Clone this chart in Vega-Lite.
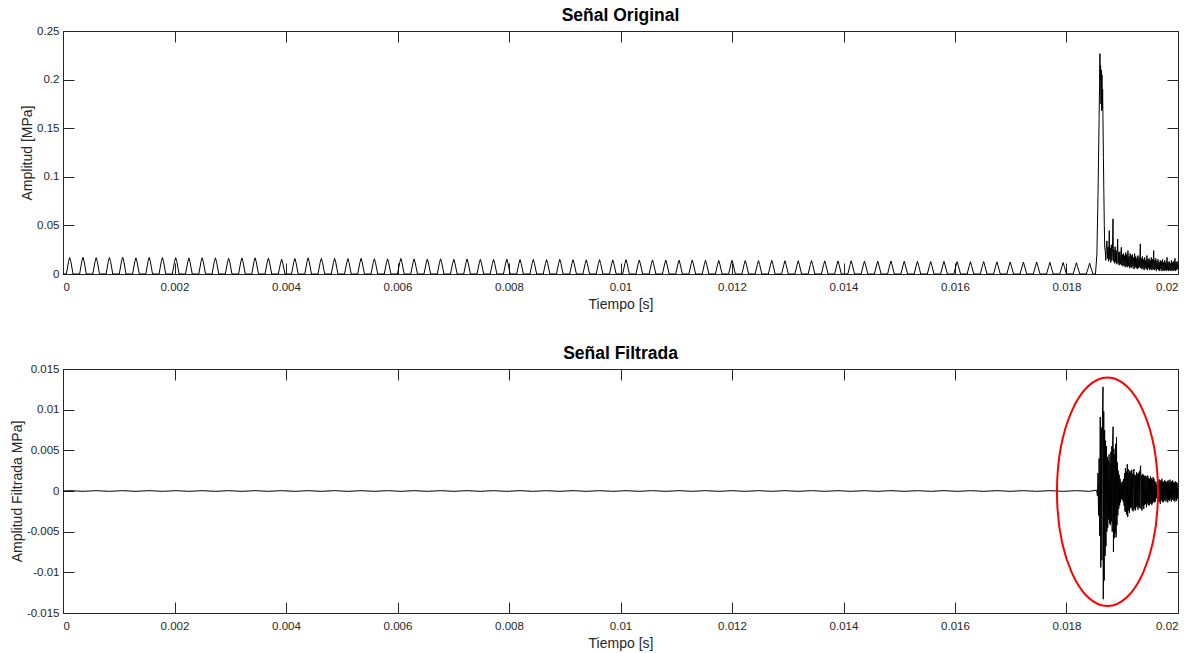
{
"$schema":"https://vega.github.io/schema/vega-lite/v6.json",
"background":"white",
"padding":{"left":9,"top":6,"right":3,"bottom":0},
"spacing":32,
"config":{
 "font":"Liberation Sans",
 "view":{"stroke":"#262626","strokeWidth":1},
 "axis":{"grid":false,"domain":false,"tickSize":-11,"tickColor":"#262626","tickWidth":1,"labelColor":"#262626","labelFontSize":11.5,"labelFont":"Liberation Sans","titleFont":"Liberation Sans","titleFontSize":14,"titleFontWeight":"normal","titleColor":"#262626"},
 "axisBottom":{"labelPadding":18,"titlePadding":4.5},
 "axisLeft":{"labelPadding":15,"titlePadding":2},
 "title":{"fontSize":17.5,"fontWeight":"bold","color":"#000000","font":"Liberation Sans","offset":1}
},
"datasets":{
"o":[
{"t":0,"a":0},{"t":0.00006,"a":0},{"t":0.0001,"a":0.013},{"t":0.00012,"a":0.017},{"t":0.00014,"a":0.013},{"t":0.00018,"a":0},
{"t":0.000298,"a":0},{"t":0.000338,"a":0.0132},{"t":0.000358,"a":0.0172},{"t":0.000378,"a":0.0132},{"t":0.000418,"a":0},
{"t":0.000535,"a":0},{"t":0.000575,"a":0.0128},{"t":0.000595,"a":0.0168},{"t":0.000615,"a":0.0128},{"t":0.000655,"a":0},
{"t":0.000773,"a":0},{"t":0.000813,"a":0.013},{"t":0.000833,"a":0.017},{"t":0.000853,"a":0.013},{"t":0.000893,"a":0},
{"t":0.00101,"a":0},{"t":0.00105,"a":0.0133},{"t":0.00107,"a":0.0173},{"t":0.00109,"a":0.0133},{"t":0.00113,"a":0},
{"t":0.001248,"a":0},{"t":0.001288,"a":0.0126},{"t":0.001308,"a":0.0166},{"t":0.001328,"a":0.0126},{"t":0.001368,"a":0},
{"t":0.001486,"a":0},{"t":0.001526,"a":0.0131},{"t":0.001546,"a":0.0171},{"t":0.001566,"a":0.0131},{"t":0.001606,"a":0},
{"t":0.001723,"a":0},{"t":0.001763,"a":0.0129},{"t":0.001783,"a":0.0169},{"t":0.001803,"a":0.0129},{"t":0.001843,"a":0},
{"t":0.001961,"a":0},{"t":0.002001,"a":0.0128},{"t":0.002021,"a":0.0168},{"t":0.002041,"a":0.0128},{"t":0.002081,"a":0},
{"t":0.002198,"a":0},{"t":0.002238,"a":0.0125},{"t":0.002258,"a":0.0165},{"t":0.002278,"a":0.0125},{"t":0.002318,"a":0},
{"t":0.002436,"a":0},{"t":0.002476,"a":0.0127},{"t":0.002496,"a":0.0167},{"t":0.002516,"a":0.0127},{"t":0.002556,"a":0},
{"t":0.002674,"a":0},{"t":0.002714,"a":0.0126},{"t":0.002734,"a":0.0166},{"t":0.002754,"a":0.0126},{"t":0.002794,"a":0},
{"t":0.002911,"a":0},{"t":0.002951,"a":0.0122},{"t":0.002971,"a":0.0162},{"t":0.002991,"a":0.0122},{"t":0.003031,"a":0},
{"t":0.003149,"a":0},{"t":0.003189,"a":0.0125},{"t":0.003209,"a":0.0165},{"t":0.003229,"a":0.0125},{"t":0.003269,"a":0},
{"t":0.003386,"a":0},{"t":0.003426,"a":0.0126},{"t":0.003446,"a":0.0166},{"t":0.003466,"a":0.0126},{"t":0.003506,"a":0},
{"t":0.003624,"a":0},{"t":0.003664,"a":0.0123},{"t":0.003684,"a":0.0163},{"t":0.003704,"a":0.0123},{"t":0.003744,"a":0},
{"t":0.003862,"a":0},{"t":0.003902,"a":0.0112},{"t":0.003922,"a":0.0152},{"t":0.003942,"a":0.0112},{"t":0.003982,"a":0},
{"t":0.004099,"a":0},{"t":0.004139,"a":0.012},{"t":0.004159,"a":0.016},{"t":0.004179,"a":0.012},{"t":0.004219,"a":0},
{"t":0.004337,"a":0},{"t":0.004377,"a":0.0126},{"t":0.004397,"a":0.0166},{"t":0.004417,"a":0.0126},{"t":0.004457,"a":0},
{"t":0.004574,"a":0},{"t":0.004614,"a":0.0121},{"t":0.004634,"a":0.0161},{"t":0.004654,"a":0.0121},{"t":0.004694,"a":0},
{"t":0.004812,"a":0},{"t":0.004852,"a":0.012},{"t":0.004872,"a":0.016},{"t":0.004892,"a":0.012},{"t":0.004932,"a":0},
{"t":0.00505,"a":0},{"t":0.00509,"a":0.0118},{"t":0.00511,"a":0.0158},{"t":0.00513,"a":0.0118},{"t":0.00517,"a":0},
{"t":0.005287,"a":0},{"t":0.005327,"a":0.0121},{"t":0.005347,"a":0.0161},{"t":0.005367,"a":0.0121},{"t":0.005407,"a":0},
{"t":0.005525,"a":0},{"t":0.005565,"a":0.0117},{"t":0.005585,"a":0.0157},{"t":0.005605,"a":0.0117},{"t":0.005645,"a":0},
{"t":0.005762,"a":0},{"t":0.005802,"a":0.0116},{"t":0.005822,"a":0.0156},{"t":0.005842,"a":0.0116},{"t":0.005882,"a":0},
{"t":0.006,"a":0},{"t":0.00604,"a":0.0119},{"t":0.00606,"a":0.0159},{"t":0.00608,"a":0.0119},{"t":0.00612,"a":0},
{"t":0.006238,"a":0},{"t":0.006278,"a":0.0115},{"t":0.006298,"a":0.0155},{"t":0.006318,"a":0.0115},{"t":0.006358,"a":0},
{"t":0.006475,"a":0},{"t":0.006515,"a":0.0113},{"t":0.006535,"a":0.0153},{"t":0.006555,"a":0.0113},{"t":0.006595,"a":0},
{"t":0.006713,"a":0},{"t":0.006753,"a":0.0116},{"t":0.006773,"a":0.0156},{"t":0.006793,"a":0.0116},{"t":0.006833,"a":0},
{"t":0.00695,"a":0},{"t":0.00699,"a":0.0112},{"t":0.00701,"a":0.0152},{"t":0.00703,"a":0.0112},{"t":0.00707,"a":0},
{"t":0.007188,"a":0},{"t":0.007228,"a":0.0114},{"t":0.007248,"a":0.0154},{"t":0.007268,"a":0.0114},{"t":0.007308,"a":0},
{"t":0.007426,"a":0},{"t":0.007466,"a":0.0111},{"t":0.007486,"a":0.0151},{"t":0.007506,"a":0.0111},{"t":0.007546,"a":0},
{"t":0.007663,"a":0},{"t":0.007703,"a":0.011},{"t":0.007723,"a":0.015},{"t":0.007743,"a":0.011},{"t":0.007783,"a":0},
{"t":0.007901,"a":0},{"t":0.007941,"a":0.0113},{"t":0.007961,"a":0.0153},{"t":0.007981,"a":0.0113},{"t":0.008021,"a":0},
{"t":0.008138,"a":0},{"t":0.008178,"a":0.0109},{"t":0.008198,"a":0.0149},{"t":0.008218,"a":0.0109},{"t":0.008258,"a":0},
{"t":0.008376,"a":0},{"t":0.008416,"a":0.011},{"t":0.008436,"a":0.015},{"t":0.008456,"a":0.011},{"t":0.008496,"a":0},
{"t":0.008614,"a":0},{"t":0.008654,"a":0.0108},{"t":0.008674,"a":0.0148},{"t":0.008694,"a":0.0108},{"t":0.008734,"a":0},
{"t":0.008851,"a":0},{"t":0.008891,"a":0.0111},{"t":0.008911,"a":0.0151},{"t":0.008931,"a":0.0111},{"t":0.008971,"a":0},
{"t":0.009089,"a":0},{"t":0.009129,"a":0.0107},{"t":0.009149,"a":0.0147},{"t":0.009169,"a":0.0107},{"t":0.009209,"a":0},
{"t":0.009326,"a":0},{"t":0.009366,"a":0.0106},{"t":0.009386,"a":0.0146},{"t":0.009406,"a":0.0106},{"t":0.009446,"a":0},
{"t":0.009564,"a":0},{"t":0.009604,"a":0.0108},{"t":0.009624,"a":0.0148},{"t":0.009644,"a":0.0108},{"t":0.009684,"a":0},
{"t":0.009802,"a":0},{"t":0.009842,"a":0.0105},{"t":0.009862,"a":0.0145},{"t":0.009882,"a":0.0105},{"t":0.009922,"a":0},
{"t":0.010039,"a":0},{"t":0.010079,"a":0.0107},{"t":0.010099,"a":0.0147},{"t":0.010119,"a":0.0107},{"t":0.010159,"a":0},
{"t":0.010277,"a":0},{"t":0.010317,"a":0.0104},{"t":0.010337,"a":0.0144},{"t":0.010357,"a":0.0104},{"t":0.010397,"a":0},
{"t":0.010514,"a":0},{"t":0.010554,"a":0.0105},{"t":0.010574,"a":0.0145},{"t":0.010594,"a":0.0105},{"t":0.010634,"a":0},
{"t":0.010752,"a":0},{"t":0.010792,"a":0.0103},{"t":0.010812,"a":0.0143},{"t":0.010832,"a":0.0103},{"t":0.010872,"a":0},
{"t":0.01099,"a":0},{"t":0.01103,"a":0.0102},{"t":0.01105,"a":0.0142},{"t":0.01107,"a":0.0102},{"t":0.01111,"a":0},
{"t":0.011227,"a":0},{"t":0.011267,"a":0.0104},{"t":0.011287,"a":0.0144},{"t":0.011307,"a":0.0104},{"t":0.011347,"a":0},
{"t":0.011465,"a":0},{"t":0.011505,"a":0.0101},{"t":0.011525,"a":0.0141},{"t":0.011545,"a":0.0101},{"t":0.011585,"a":0},
{"t":0.011702,"a":0},{"t":0.011742,"a":0.01},{"t":0.011762,"a":0.014},{"t":0.011782,"a":0.01},{"t":0.011822,"a":0},
{"t":0.01194,"a":0},{"t":0.01198,"a":0.0102},{"t":0.012,"a":0.0142},{"t":0.01202,"a":0.0102},{"t":0.01206,"a":0},
{"t":0.012178,"a":0},{"t":0.012218,"a":0.0099},{"t":0.012238,"a":0.0139},{"t":0.012258,"a":0.0099},{"t":0.012298,"a":0},
{"t":0.012415,"a":0},{"t":0.012455,"a":0.0098},{"t":0.012475,"a":0.0138},{"t":0.012495,"a":0.0098},{"t":0.012535,"a":0},
{"t":0.012653,"a":0},{"t":0.012693,"a":0.01},{"t":0.012713,"a":0.014},{"t":0.012733,"a":0.01},{"t":0.012773,"a":0},
{"t":0.01289,"a":0},{"t":0.01293,"a":0.0097},{"t":0.01295,"a":0.0137},{"t":0.01297,"a":0.0097},{"t":0.01301,"a":0},
{"t":0.013128,"a":0},{"t":0.013168,"a":0.0096},{"t":0.013188,"a":0.0136},{"t":0.013208,"a":0.0096},{"t":0.013248,"a":0},
{"t":0.013366,"a":0},{"t":0.013406,"a":0.0098},{"t":0.013426,"a":0.0138},{"t":0.013446,"a":0.0098},{"t":0.013486,"a":0},
{"t":0.013603,"a":0},{"t":0.013643,"a":0.0095},{"t":0.013663,"a":0.0135},{"t":0.013683,"a":0.0095},{"t":0.013723,"a":0},
{"t":0.013841,"a":0},{"t":0.013881,"a":0.0094},{"t":0.013901,"a":0.0134},{"t":0.013921,"a":0.0094},{"t":0.013961,"a":0},
{"t":0.014078,"a":0},{"t":0.014118,"a":0.0096},{"t":0.014138,"a":0.0136},{"t":0.014158,"a":0.0096},{"t":0.014198,"a":0},
{"t":0.014316,"a":0},{"t":0.014356,"a":0.0093},{"t":0.014376,"a":0.0133},{"t":0.014396,"a":0.0093},{"t":0.014436,"a":0},
{"t":0.014554,"a":0},{"t":0.014594,"a":0.0092},{"t":0.014614,"a":0.0132},{"t":0.014634,"a":0.0092},{"t":0.014674,"a":0},
{"t":0.014791,"a":0},{"t":0.014831,"a":0.0094},{"t":0.014851,"a":0.0134},{"t":0.014871,"a":0.0094},{"t":0.014911,"a":0},
{"t":0.015029,"a":0},{"t":0.015069,"a":0.0091},{"t":0.015089,"a":0.0131},{"t":0.015109,"a":0.0091},{"t":0.015149,"a":0},
{"t":0.015266,"a":0},{"t":0.015306,"a":0.009},{"t":0.015326,"a":0.013},{"t":0.015346,"a":0.009},{"t":0.015386,"a":0},
{"t":0.015504,"a":0},{"t":0.015544,"a":0.0088},{"t":0.015564,"a":0.0128},{"t":0.015584,"a":0.0088},{"t":0.015624,"a":0},
{"t":0.015742,"a":0},{"t":0.015782,"a":0.009},{"t":0.015802,"a":0.013},{"t":0.015822,"a":0.009},{"t":0.015862,"a":0},
{"t":0.015979,"a":0},{"t":0.016019,"a":0.0087},{"t":0.016039,"a":0.0127},{"t":0.016059,"a":0.0087},{"t":0.016099,"a":0},
{"t":0.016217,"a":0},{"t":0.016257,"a":0.0086},{"t":0.016277,"a":0.0126},{"t":0.016297,"a":0.0086},{"t":0.016337,"a":0},
{"t":0.016454,"a":0},{"t":0.016494,"a":0.0088},{"t":0.016514,"a":0.0128},{"t":0.016534,"a":0.0088},{"t":0.016574,"a":0},
{"t":0.016692,"a":0},{"t":0.016732,"a":0.0085},{"t":0.016752,"a":0.0125},{"t":0.016772,"a":0.0085},{"t":0.016812,"a":0},
{"t":0.01693,"a":0},{"t":0.01697,"a":0.0084},{"t":0.01699,"a":0.0124},{"t":0.01701,"a":0.0084},{"t":0.01705,"a":0},
{"t":0.017167,"a":0},{"t":0.017207,"a":0.0082},{"t":0.017227,"a":0.0122},{"t":0.017247,"a":0.0082},{"t":0.017287,"a":0},
{"t":0.017405,"a":0},{"t":0.017445,"a":0.0083},{"t":0.017465,"a":0.0123},{"t":0.017485,"a":0.0083},{"t":0.017525,"a":0},
{"t":0.017642,"a":0},{"t":0.017682,"a":0.008},{"t":0.017702,"a":0.012},{"t":0.017722,"a":0.008},{"t":0.017762,"a":0},
{"t":0.01788,"a":0},{"t":0.01792,"a":0.0078},{"t":0.01794,"a":0.0118},{"t":0.01796,"a":0.0078},{"t":0.018,"a":0},
{"t":0.018118,"a":0},{"t":0.018158,"a":0.0076},{"t":0.018178,"a":0.0116},{"t":0.018198,"a":0.0076},{"t":0.018238,"a":0},
{"t":0.018355,"a":0},{"t":0.018395,"a":0.0072},{"t":0.018415,"a":0.0112},{"t":0.018435,"a":0.0072},{"t":0.018475,"a":0},
{"t":0.01852,"a":0},{"t":0.018545,"a":0.02},{"t":0.018565,"a":0.08},{"t":0.018585,"a":0.16},{"t":0.0186,"a":0.2267},{"t":0.018606,"a":0.2},{"t":0.018612,"a":0.2146},{"t":0.018618,"a":0.175},{"t":0.018624,"a":0.21},{"t":0.01863,"a":0.168},{"t":0.018636,"a":0.205},{"t":0.018642,"a":0.17},{"t":0.018648,"a":0.19},{"t":0.018654,"a":0.16},{"t":0.018662,"a":0.12},{"t":0.01867,"a":0.084},{"t":0.018678,"a":0.05},{"t":0.018686,"a":0.027},
{"t":0.018695,"a":0.024},{"t":0.018705,"a":0.014},{"t":0.018715,"a":0.029},{"t":0.018725,"a":0.034},{"t":0.018735,"a":0.016},{"t":0.018745,"a":0.028},{"t":0.018755,"a":0.013},{"t":0.018767,"a":0.0446},{"t":0.018775,"a":0.015},{"t":0.018785,"a":0.027},{"t":0.018795,"a":0.012},{"t":0.018805,"a":0.03},{"t":0.018815,"a":0.014},{"t":0.018825,"a":0.026},{"t":0.018834,"a":0.0567},{"t":0.018842,"a":0.013},{"t":0.018852,"a":0.025},{"t":0.018862,"a":0.011},{"t":0.018872,"a":0.028},{"t":0.018882,"a":0.012},{"t":0.018892,"a":0.024},{"t":0.018902,"a":0.01},{"t":0.018918,"a":0.036},{"t":0.018926,"a":0.011},{"t":0.018936,"a":0.022},{"t":0.018946,"a":0.009},{"t":0.018956,"a":0.023},{"t":0.018966,"a":0.01},{"t":0.018983,"a":0.0274},{"t":0.018992,"a":0.009},
{"t":0.019002,"a":0.02},{"t":0.019012,"a":0.008},{"t":0.019022,"a":0.021},{"t":0.019032,"a":0.009},{"t":0.019042,"a":0.019},{"t":0.019052,"a":0.007},{"t":0.019062,"a":0.022},{"t":0.019072,"a":0.008},{"t":0.019082,"a":0.02},{"t":0.019092,"a":0.007},{"t":0.019102,"a":0.024},{"t":0.019112,"a":0.008},{"t":0.019122,"a":0.018},{"t":0.019132,"a":0.006},{"t":0.019142,"a":0.021},{"t":0.019152,"a":0.007},{"t":0.019162,"a":0.019},{"t":0.019172,"a":0.006},{"t":0.019182,"a":0.02},{"t":0.019192,"a":0.008},{"t":0.019202,"a":0.017},{"t":0.019212,"a":0.005},{"t":0.019222,"a":0.021},{"t":0.019232,"a":0.007},{"t":0.019242,"a":0.018},{"t":0.019252,"a":0.006},{"t":0.019262,"a":0.016},{"t":0.019272,"a":0.005},{"t":0.019282,"a":0.019},{"t":0.019292,"a":0.006},{"t":0.019302,"a":0.017},{"t":0.019312,"a":0.007},{"t":0.019324,"a":0.031},{"t":0.019332,"a":0.006},{"t":0.019342,"a":0.016},{"t":0.019352,"a":0.005},{"t":0.019362,"a":0.018},{"t":0.019372,"a":0.006},{"t":0.019382,"a":0.015},{"t":0.019392,"a":0.004},
{"t":0.019402,"a":0.017},{"t":0.019412,"a":0.006},{"t":0.019422,"a":0.014},{"t":0.019432,"a":0.005},{"t":0.019442,"a":0.019},{"t":0.019452,"a":0.004},{"t":0.019462,"a":0.015},{"t":0.019472,"a":0.006},{"t":0.019482,"a":0.016},{"t":0.019492,"a":0.004},{"t":0.019502,"a":0.014},{"t":0.019512,"a":0.005},{"t":0.019522,"a":0.017},{"t":0.019532,"a":0.004},{"t":0.019542,"a":0.015},{"t":0.019552,"a":0.005},{"t":0.019564,"a":0.024},{"t":0.019572,"a":0.004},{"t":0.019582,"a":0.014},{"t":0.019592,"a":0.005},{"t":0.019602,"a":0.016},{"t":0.019612,"a":0.003},{"t":0.019622,"a":0.013},{"t":0.019632,"a":0.005},{"t":0.019642,"a":0.015},{"t":0.019652,"a":0.004},{"t":0.019662,"a":0.012},{"t":0.019672,"a":0.003},{"t":0.019682,"a":0.014},{"t":0.019692,"a":0.005},
{"t":0.019702,"a":0.013},{"t":0.019712,"a":0.003},{"t":0.019722,"a":0.015},{"t":0.019732,"a":0.004},{"t":0.019742,"a":0.012},{"t":0.019752,"a":0.003},{"t":0.019762,"a":0.014},{"t":0.019772,"a":0.004},{"t":0.019782,"a":0.012},{"t":0.019792,"a":0.003},{"t":0.019803,"a":0.0171},{"t":0.019812,"a":0.004},{"t":0.019822,"a":0.012},{"t":0.019832,"a":0.003},{"t":0.019842,"a":0.013},{"t":0.019852,"a":0.004},{"t":0.019862,"a":0.011},{"t":0.019872,"a":0.003},{"t":0.019882,"a":0.014},{"t":0.019892,"a":0.004},{"t":0.019902,"a":0.012},{"t":0.019912,"a":0.003},{"t":0.019922,"a":0.013},{"t":0.019932,"a":0.004},{"t":0.019946,"a":0.016},{"t":0.019954,"a":0.003},{"t":0.019964,"a":0.012},{"t":0.019974,"a":0.004},{"t":0.019984,"a":0.013},{"t":0.019994,"a":0.005},{"t":0.02,"a":0.01}
],
"f":[
{"t":0,"a":0},{"t":0.00012,"a":0.00004},{"t":0.000358,"a":-0.00004},{"t":0.000595,"a":0.00004},{"t":0.000833,"a":-0.00004},{"t":0.00107,"a":0.00004},{"t":0.001308,"a":-0.00004},{"t":0.001546,"a":0.00004},{"t":0.001783,"a":-0.00004},{"t":0.002021,"a":0.00004},{"t":0.002258,"a":-0.00004},{"t":0.002496,"a":0.00004},{"t":0.002734,"a":-0.00004},{"t":0.002971,"a":0.00004},{"t":0.003209,"a":-0.00004},{"t":0.003446,"a":0.00004},{"t":0.003684,"a":-0.00004},{"t":0.003922,"a":0.00004},{"t":0.004159,"a":-0.00004},{"t":0.004397,"a":0.00004},{"t":0.004634,"a":-0.00004},{"t":0.004872,"a":0.00004},{"t":0.00511,"a":-0.00004},{"t":0.005347,"a":0.00004},{"t":0.005585,"a":-0.00004},{"t":0.005822,"a":0.00004},{"t":0.00606,"a":-0.00004},{"t":0.006298,"a":0.00004},{"t":0.006535,"a":-0.00004},{"t":0.006773,"a":0.00004},{"t":0.00701,"a":-0.00004},{"t":0.007248,"a":0.00004},{"t":0.007486,"a":-0.00004},{"t":0.007723,"a":0.00004},{"t":0.007961,"a":-0.00004},{"t":0.008198,"a":0.00004},{"t":0.008436,"a":-0.00004},{"t":0.008674,"a":0.00004},{"t":0.008911,"a":-0.00004},{"t":0.009149,"a":0.00004},{"t":0.009386,"a":-0.00004},{"t":0.009624,"a":0.00004},{"t":0.009862,"a":-0.00004},{"t":0.010099,"a":0.00004},{"t":0.010337,"a":-0.00004},{"t":0.010574,"a":0.00004},{"t":0.010812,"a":-0.00004},{"t":0.01105,"a":0.00004},{"t":0.011287,"a":-0.00004},{"t":0.011525,"a":0.00004},{"t":0.011762,"a":-0.00004},{"t":0.012,"a":0.00004},{"t":0.012238,"a":-0.00004},{"t":0.012475,"a":0.00004},{"t":0.012713,"a":-0.00004},{"t":0.01295,"a":0.00004},{"t":0.013188,"a":-0.00004},{"t":0.013426,"a":0.00004},{"t":0.013663,"a":-0.00004},{"t":0.013901,"a":0.00004},{"t":0.014138,"a":-0.00004},{"t":0.014376,"a":0.00004},{"t":0.014614,"a":-0.00004},{"t":0.014851,"a":0.00004},{"t":0.015089,"a":-0.00004},{"t":0.015326,"a":0.00004},{"t":0.015564,"a":-0.00004},{"t":0.015802,"a":0.00004},{"t":0.016039,"a":-0.00004},{"t":0.016277,"a":0.00004},{"t":0.016514,"a":-0.00004},{"t":0.016752,"a":0.00004},{"t":0.01699,"a":-0.00004},{"t":0.017227,"a":0.00004},{"t":0.017465,"a":-0.00004},{"t":0.017702,"a":0.00004},{"t":0.01794,"a":-0.00004},{"t":0.018178,"a":0.00004},{"t":0.018415,"a":-0.00004},
{"t":0.01854,"a":0.0001},{"t":0.018555,"a":-0.0006},{"t":0.018565,"a":0.0022},{"t":0.018575,"a":-0.003},{"t":0.018585,"a":0.004},{"t":0.018595,"a":-0.0055},{"t":0.018605,"a":0.0091},{"t":0.018615,"a":-0.0094},{"t":0.018625,"a":0.0078},{"t":0.018635,"a":-0.0085},{"t":0.018645,"a":0.0095},{"t":0.018655,"a":0.0128},{"t":0.01866,"a":-0.0133},{"t":0.018668,"a":0.0098},{"t":0.018676,"a":-0.011},{"t":0.018684,"a":0.0075},{"t":0.018692,"a":-0.008},{"t":0.0187,"a":0.0062},{"t":0.018708,"a":-0.0068},{"t":0.018716,"a":0.0055},{"t":0.018724,"a":-0.005},{"t":0.018732,"a":0.0042},{"t":0.01874,"a":-0.0045},{"t":0.018748,"a":0.0038},{"t":0.018756,"a":-0.0035},{"t":0.018764,"a":0.0045},{"t":0.018772,"a":-0.004},{"t":0.01878,"a":0.0035},{"t":0.018788,"a":-0.0042},{"t":0.018796,"a":0.0048},{"t":0.018804,"a":-0.0038},{"t":0.018812,"a":0.0055},{"t":0.01882,"a":-0.005},{"t":0.018828,"a":0.0062},{"t":0.018836,"a":0.0079},{"t":0.018842,"a":-0.0075},{"t":0.01885,"a":0.0052},{"t":0.018858,"a":-0.0058},{"t":0.018866,"a":0.0045},{"t":0.018874,"a":-0.0052},{"t":0.018882,"a":0.0058},{"t":0.01889,"a":-0.0057},{"t":0.018897,"a":0.0066},{"t":0.018905,"a":-0.0042},{"t":0.018913,"a":0.0035},{"t":0.018921,"a":-0.003},{"t":0.018929,"a":0.0025},{"t":0.018937,"a":-0.0022},{"t":0.018945,"a":0.002},{"t":0.018953,"a":-0.0018},{"t":0.018961,"a":0.0015},{"t":0.018969,"a":-0.0014},{"t":0.018977,"a":0.0011},{"t":0.018985,"a":-0.001},{"t":0.018993,"a":0.0009},
{"t":0.019001,"a":-0.0011},{"t":0.019009,"a":0.0012},{"t":0.019017,"a":-0.0013},{"t":0.019025,"a":0.0015},{"t":0.019033,"a":-0.0018},{"t":0.019041,"a":0.0022},{"t":0.019049,"a":-0.0025},{"t":0.019057,"a":0.0028},{"t":0.019065,"a":-0.0026},{"t":0.019073,"a":0.0024},{"t":0.019081,"a":-0.0029},{"t":0.01909,"a":0.0033},{"t":0.019098,"a":-0.0032},{"t":0.019106,"a":0.0027},{"t":0.019114,"a":-0.0024},{"t":0.019122,"a":0.0022},{"t":0.01913,"a":-0.0027},{"t":0.019138,"a":0.0025},{"t":0.019146,"a":-0.0021},{"t":0.019154,"a":0.0023},{"t":0.019162,"a":-0.002},{"t":0.01917,"a":0.0026},{"t":0.019178,"a":-0.0023},{"t":0.019186,"a":0.0021},{"t":0.019194,"a":-0.0025},{"t":0.019202,"a":0.0024},{"t":0.01921,"a":0.0027},{"t":0.019218,"a":-0.0022},{"t":0.019226,"a":0.002},{"t":0.019234,"a":-0.0024},{"t":0.019242,"a":0.0019},{"t":0.01925,"a":-0.002},{"t":0.019258,"a":0.0023},{"t":0.019266,"a":-0.0018},{"t":0.019274,"a":0.0021},{"t":0.019282,"a":-0.0023},{"t":0.01929,"a":0.0022},{"t":0.019298,"a":-0.0019},{"t":0.019306,"a":0.0024},{"t":0.019314,"a":-0.0021},{"t":0.019322,"a":0.0026},{"t":0.01933,"a":0.0031},{"t":0.019338,"a":-0.0022},{"t":0.019346,"a":0.0019},{"t":0.019354,"a":-0.0024},{"t":0.019362,"a":0.0021},{"t":0.01937,"a":-0.0018},{"t":0.019378,"a":0.002},{"t":0.019386,"a":-0.0022},{"t":0.019394,"a":0.0018},
{"t":0.019402,"a":-0.0017},{"t":0.01941,"a":0.0019},{"t":0.019418,"a":-0.0016},{"t":0.019426,"a":0.0018},{"t":0.019434,"a":-0.002},{"t":0.019442,"a":0.0017},{"t":0.01945,"a":-0.0015},{"t":0.019458,"a":0.0019},{"t":0.019466,"a":-0.0017},{"t":0.019474,"a":0.0016},{"t":0.019482,"a":-0.0018},{"t":0.01949,"a":0.0015},{"t":0.019498,"a":-0.0016},{"t":0.019506,"a":0.0018},{"t":0.019514,"a":-0.0014},{"t":0.019522,"a":0.0016},{"t":0.01953,"a":-0.0017},{"t":0.019538,"a":0.0014},{"t":0.019546,"a":-0.0015},{"t":0.019554,"a":0.0017},{"t":0.019562,"a":-0.0013},{"t":0.01957,"a":0.0015},{"t":0.019578,"a":-0.0014},{"t":0.019586,"a":0.0012},{"t":0.019594,"a":-0.0013},{"t":0.019602,"a":0.0011},{"t":0.01961,"a":-0.0009},{"t":0.019618,"a":0.0008},{"t":0.019626,"a":-0.0007},{"t":0.019634,"a":0.0009},{"t":0.019642,"a":-0.0011},{"t":0.01965,"a":0.0012},{"t":0.019658,"a":-0.0013},{"t":0.019666,"a":0.0014},{"t":0.019674,"a":-0.0012},{"t":0.019683,"a":-0.0016},{"t":0.01969,"a":0.0013},{"t":0.019698,"a":-0.0012},{"t":0.019706,"a":0.0014},{"t":0.019713,"a":0.0015},{"t":0.01972,"a":-0.0013},{"t":0.019728,"a":0.0012},{"t":0.019736,"a":-0.0014},{"t":0.019744,"a":0.0011},{"t":0.019752,"a":-0.0012},{"t":0.01976,"a":0.0013},{"t":0.019768,"a":-0.0011},{"t":0.019776,"a":0.0012},{"t":0.019784,"a":-0.0013},{"t":0.019792,"a":0.0011},{"t":0.0198,"a":-0.001},{"t":0.019808,"a":0.0012},{"t":0.019816,"a":-0.0014},{"t":0.019824,"a":0.0013},{"t":0.019832,"a":-0.0011},{"t":0.01984,"a":0.001},{"t":0.019848,"a":-0.0012},{"t":0.019856,"a":0.0014},{"t":0.019864,"a":-0.001},{"t":0.019872,"a":0.0011},{"t":0.01988,"a":-0.0013},{"t":0.019888,"a":0.0012},{"t":0.019896,"a":-0.0011},{"t":0.019904,"a":0.0013},{"t":0.019912,"a":-0.001},{"t":0.01992,"a":0.0011},{"t":0.019928,"a":-0.0012},{"t":0.019936,"a":0.001},{"t":0.019944,"a":-0.0013},{"t":0.019952,"a":0.0012},{"t":0.01996,"a":-0.001},{"t":0.019968,"a":0.0011},{"t":0.019976,"a":-0.0012},{"t":0.019984,"a":0.001},{"t":0.019992,"a":-0.0009},{"t":0.02,"a":0.0004}
],
"e":[{"t":0.018735,"a":-0.0001}]
},
"vconcat":[
{"width":1115,"height":243,
 "title":{"text":"Señal Original"},
 "layer":[
  {"data":{"name":"o"},"mark":{"type":"line","color":"#000000","strokeWidth":1},
   "encoding":{
    "x":{"field":"t","type":"quantitative","scale":{"domain":[0,0.02],"nice":false,"zero":false},"axis":{"orient":"bottom","title":"Tiempo [s]","values":[0,0.002,0.004,0.006,0.008,0.01,0.012,0.014,0.016,0.018,0.02],"format":".4~g"}},
    "y":{"field":"a","type":"quantitative","scale":{"domain":[0,0.25],"nice":false},"axis":{"orient":"left","title":"Amplitud [MPa]","values":[0,0.05,0.1,0.15,0.2,0.25],"format":".4~g"}}}},
  {"data":{"name":"e"},"mark":{"type":"point","opacity":0},
   "encoding":{
    "x":{"field":"t","type":"quantitative","scale":{"domain":[0,0.02],"nice":false,"zero":false},"axis":{"orient":"top","labels":false,"title":null,"values":[0,0.002,0.004,0.006,0.008,0.01,0.012,0.014,0.016,0.018,0.02]}},
    "y":{"field":"a","type":"quantitative","scale":{"domain":[0,0.25],"nice":false},"axis":{"orient":"right","labels":false,"title":null,"values":[0,0.05,0.1,0.15,0.2,0.25]}}}}
 ],
 "resolve":{"axis":{"x":"independent","y":"independent"}}
},
{"width":1115,"height":244,
 "title":{"text":"Señal Filtrada"},
 "layer":[
  {"data":{"name":"f"},"mark":{"type":"line","color":"#000000","strokeWidth":1},
   "encoding":{
    "x":{"field":"t","type":"quantitative","scale":{"domain":[0,0.02],"nice":false,"zero":false},"axis":{"orient":"bottom","title":"Tiempo [s]","values":[0,0.002,0.004,0.006,0.008,0.01,0.012,0.014,0.016,0.018,0.02],"format":".4~g"}},
    "y":{"field":"a","type":"quantitative","scale":{"domain":[-0.015,0.015],"nice":false,"zero":false},"axis":{"orient":"left","title":"Amplitud Filtrada MPa]","values":[-0.015,-0.01,-0.005,0,0.005,0.01,0.015],"format":".4~g","labelExpr":"replace(datum.label, '−', '-')"}}}},
  {"data":{"name":"e"},"mark":{"type":"point","filled":false,"stroke":"#ff0000","strokeWidth":2,"size":52167,"shape":"M 0 -1 C 0.2442 -1 0.4422 -0.5523 0.4422 0 C 0.4422 0.5523 0.2442 1 0 1 C -0.2442 1 -0.4422 0.5523 -0.4422 0 C -0.4422 -0.5523 -0.2442 -1 0 -1 Z","opacity":1},
   "encoding":{
    "x":{"field":"t","type":"quantitative","scale":{"domain":[0,0.02],"nice":false,"zero":false},"axis":null},
    "y":{"field":"a","type":"quantitative","scale":{"domain":[-0.015,0.015],"nice":false,"zero":false},"axis":null}}},
  {"data":{"name":"e"},"mark":{"type":"point","opacity":0},
   "encoding":{
    "x":{"field":"t","type":"quantitative","scale":{"domain":[0,0.02],"nice":false,"zero":false},"axis":{"orient":"top","labels":false,"title":null,"values":[0,0.002,0.004,0.006,0.008,0.01,0.012,0.014,0.016,0.018,0.02]}},
    "y":{"field":"a","type":"quantitative","scale":{"domain":[-0.015,0.015],"nice":false,"zero":false},"axis":{"orient":"right","labels":false,"title":null,"values":[-0.015,-0.01,-0.005,0,0.005,0.01,0.015]}}}}
 ],
 "resolve":{"axis":{"x":"independent","y":"independent"}}
}
]
}
